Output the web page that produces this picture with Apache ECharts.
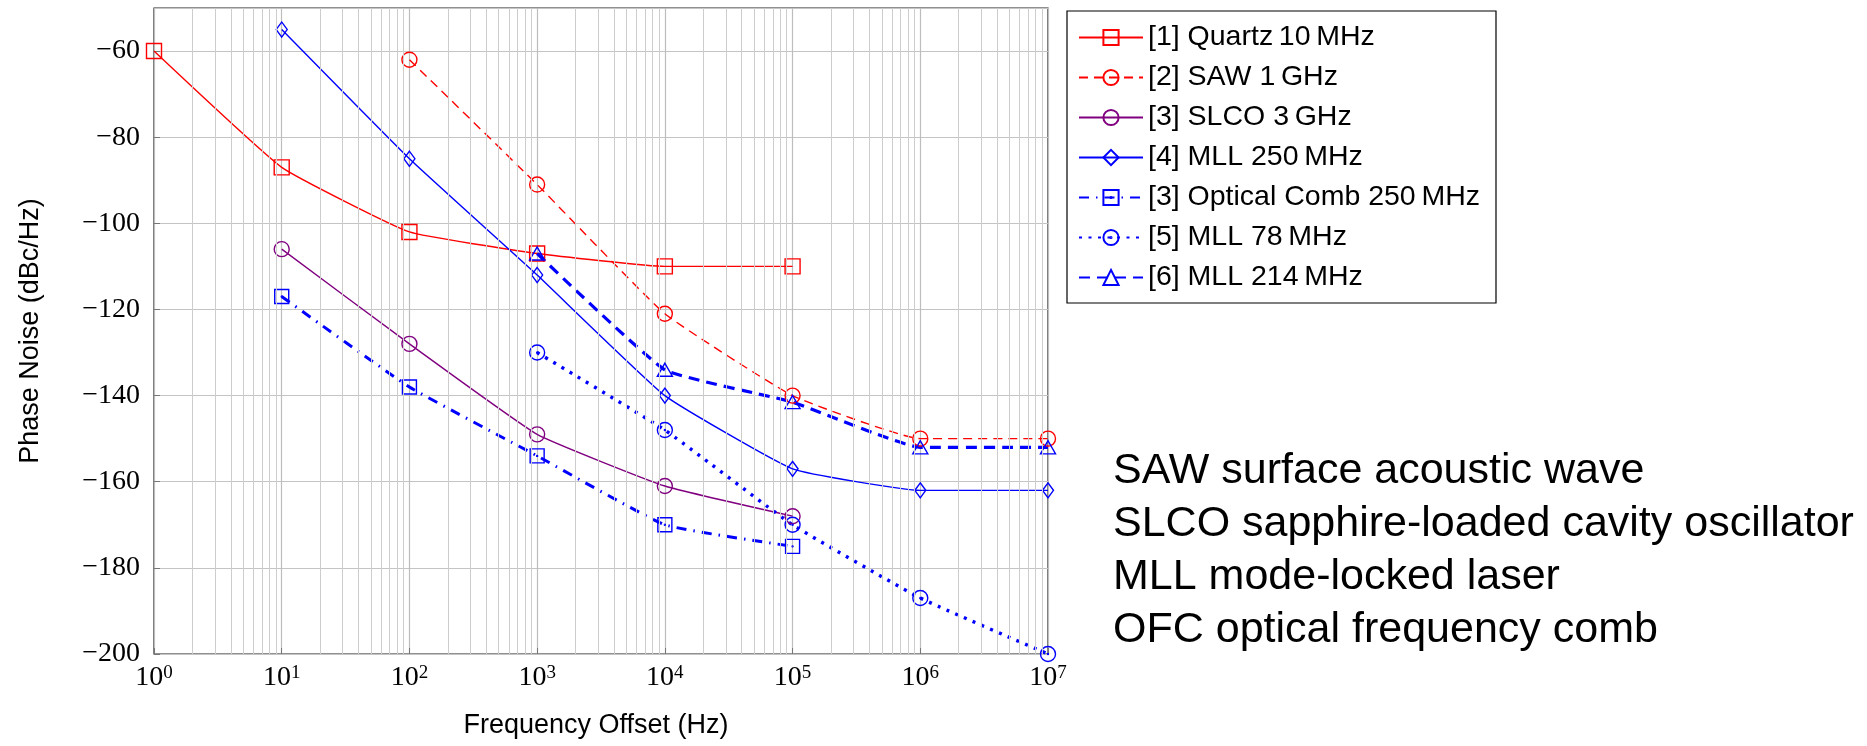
<!DOCTYPE html>
<html><head><meta charset="utf-8">
<script src="https://cdn.jsdelivr.net/npm/echarts@6/dist/echarts.min.js"></script>
<style>html,body{margin:0;padding:0;background:#fff}#c{width:1867px;height:746px}</style>
</head><body><div id="c"></div>
<script>
// ---- data ----
const freqs = [1, 10, 100, 1e3, 1e4, 1e5, 1e6, 1e7];
const names = ['[1] Quartz\u200910\u2009MHz', '[2] SAW 1\u2009GHz', '[3] SLCO 3\u2009GHz', '[4] MLL 250\u2009MHz',
  '[3] Optical Comb 250\u2009MHz', '[5] MLL 78\u2009MHz', '[6] MLL 214\u2009MHz'];
const quartz = [-60, -87, -102, -107, -110, -110, null, null];
const saw    = [null, null, -62, -91, -121, -140, -150, -150];
const slco   = [null, -106, -128, -149, -161, -168, null, null];
const mll250 = [null, -55, -85, -112, -140, -157, -162, -162];
const comb   = [null, -117, -138, -154, -170, -175, null, null];
const mll78  = [null, null, null, -130, -148, -170, -187, -200];
const mll214 = [null, null, null, -107, -134, -141.5, -152, -152];
const notes = ['SAW surface acoustic wave', 'SLCO sapphire-loaded cavity oscillator', 'MLL mode-locked laser', 'OFC optical frequency comb'];
const xTitle = 'Frequency Offset (Hz)';
const yTitle = 'Phase Noise (dBc/Hz)';

// minor log grid positions (2..9 x 10^k)
const minorX = [];
for (let k = 0; k < 7; k++) for (let m = 2; m <= 9; m++) minorX.push(m * Math.pow(10, k));

const pairs = v => freqs.map((f, i) => [f, v[i]]).filter(p => p[1] !== null);

const RED = '#ff0000', PUR = '#800080', BLUE = '#0000ff';
const circDot = 'path://M0,10 A10,10 0 1,1 20,10 A10,10 0 1,1 0,10 Z M9.3,10 A0.7,0.7 0 1,1 10.7,10 A0.7,0.7 0 1,1 9.3,10 Z';
const rectDot = 'path://M0,0 L20,0 L20,20 L0,20 Z M9.3,10 A0.7,0.7 0 1,1 10.7,10 A0.7,0.7 0 1,1 9.3,10 Z';

function mk(name, vals, color, symbol, size, lw, dash, smooth) {
  return {
    name, type: 'line', data: pairs(vals), z: 3,
    symbol, symbolSize: size, showSymbol: true, smooth: smooth,
    lineStyle: { color, width: lw, type: dash },
    itemStyle: { color: 'rgba(0,0,0,0)', borderColor: color, borderWidth: 1.4 },
    emphasis: { disabled: true }, animation: false
  };
}

const chart = echarts.init(document.getElementById('c'), null, { renderer: 'canvas' });
chart.setOption({
  backgroundColor: '#fff',
  animation: false,
  grid: { left: 154, right: 819, top: 8, bottom: 92, show: true, borderColor: '#222', borderWidth: 1.2, backgroundColor: 'rgba(0,0,0,0)' },
  legend: {
    data: names, orient: 'vertical', left: 1067, top: 11,
    padding: [12, 16, 11, 11], borderColor: '#000', borderWidth: 1.2, backgroundColor: '#fff',
    itemWidth: 64, itemHeight: 19, itemGap: 11,
    textStyle: { fontFamily: 'Liberation Sans', fontSize: 28.5, color: '#000', lineHeight: 28 },
    selectedMode: false
  },
  xAxis: {
    type: 'log', logBase: 10, min: 1, max: 1e7, splitNumber: 7,
    name: xTitle, nameLocation: 'middle', nameGap: 58,
    nameTextStyle: { fontFamily: 'Liberation Sans', fontSize: 27, color: '#000', padding: [0, 10, 0, 0] },
    axisLine: { show: false },
    axisTick: { show: true, inside: true, length: 6, lineStyle: { color: '#777' } },
    splitLine: { show: true, lineStyle: { color: '#bdbdbd', width: 1.2 } },
    axisLabel: {
      margin: 10, color: '#000',
      formatter: v => '{b|10}{s|' + Math.round(Math.log10(v)) + '}',
      rich: {
        b: { fontFamily: 'Liberation Serif', fontSize: 28, color: '#000' },
        s: { fontFamily: 'Liberation Serif', fontSize: 19, color: '#000', verticalAlign: 'top' }
      }
    }
  },
  yAxis: {
    type: 'value', min: -200, max: -50, interval: 20,
    name: yTitle, nameLocation: 'middle', nameGap: 110,
    nameTextStyle: { fontFamily: 'Liberation Sans', fontSize: 27, color: '#000' },
    axisLine: { show: false },
    axisTick: { show: true, inside: true, length: 6, lineStyle: { color: '#777' } },
    splitLine: { show: true, lineStyle: { color: '#c4c4c4', width: 1.2 } },
    axisLabel: {
      margin: 14, color: '#000', fontFamily: 'Liberation Serif', fontSize: 28,
      showMaxLabel: false,
      formatter: v => (v < 0 ? '\u2212' : '') + Math.abs(v)
    }
  },
  graphic: [{
    type: 'text', left: 1113, top: 445, z: 10,
    style: { text: notes.join('\n'), font: '43px "Liberation Sans"', lineHeight: 53, fill: '#000' }
  }],
  series: [
    {
      name: 'minor-grid', type: 'line', data: [], z: 1, silent: true, animation: false,
      markLine: {
        silent: true, symbol: 'none', animation: false,
        label: { show: false },
        lineStyle: { color: '#cdcdcd', width: 1, type: 'solid' },
        emphasis: { disabled: true },
        data: minorX.map(v => ({ xAxis: v }))
      }
    },
    mk(names[0], quartz, RED, 'rect', 15, 1.4, 'solid', 0.12),
    mk(names[1], saw, RED, 'circle', 15, 1.4, [9, 6], 0.12),
    mk(names[2], slco, PUR, 'circle', 15, 1.4, 'solid', 0.12),
    mk(names[3], mll250, BLUE, 'diamond', [11, 15], 1.4, 'solid', 0.12),
    mk(names[4], comb, BLUE, rectDot, 14, 3, [10, 7, 1.5, 7], 0.12),
    mk(names[5], mll78, BLUE, circDot, 15, 3.4, [3, 6.5], 0.12),
    mk(names[6], mll214, BLUE, 'triangle', [15, 13], 3.2, [11, 7], 0.12)
  ]
});
</script></body></html>
